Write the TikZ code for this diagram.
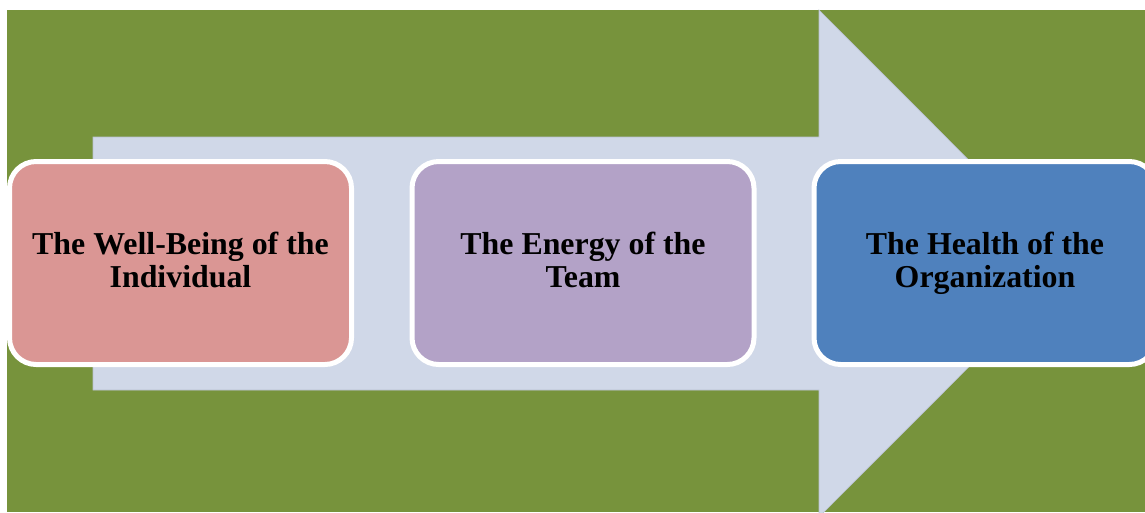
\documentclass[tikz,border=0pt]{standalone}
\usepackage{fontspec}
\setmainfont{Liberation Serif}

\tikzset{every picture/.style={line width=0.75pt}}
\tikzset{stagebox/.style={draw={rgb, 255:red, 255; green, 255; blue, 255 }, line width=3.75pt, rounded corners=20pt, minimum width=256.5pt, minimum height=152.25pt, inner sep=0pt, align=center, font=\bfseries\fontsize{23.9}{25}\selectfont, execute at end node=\vphantom{g}}}

\begin{document}
\begin{tikzpicture}[x=0.75pt,y=0.75pt,yscale=-1,xscale=1]
\useasboundingbox (0,0) rectangle (1145,512);
\clip (0,0) rectangle (1145,512);

%Shape: Rectangle [background]
\fill [color={rgb, 255:red, 119; green, 147; blue, 60 }] (7,10) rectangle (1145,512) ;
%Shape: Right Arrow [flow]
\draw [color={rgb, 255:red, 185; green, 193; blue, 208 }, fill={rgb, 255:red, 208; green, 216; blue, 232 }, line width=0.5pt] (93,137) -- (819,137) -- (819,10) -- (1072,263.5) -- (819,517) -- (819,390) -- (93,390) -- cycle ;

% Text Node
\node (individual) [stagebox, fill={rgb, 255:red, 218; green, 150; blue, 148 }] at (180.5,263) {The Well-Being of the\\Individual};
% Text Node
\node (team) [stagebox, fill={rgb, 255:red, 179; green, 162; blue, 199 }] at (583,263) {The Energy of the\\Team};
% Text Node
\node (organization) [stagebox, fill={rgb, 255:red, 79; green, 129; blue, 189 }] at (985,263) {The Health of the\\Organization};

\end{tikzpicture}
\end{document}
